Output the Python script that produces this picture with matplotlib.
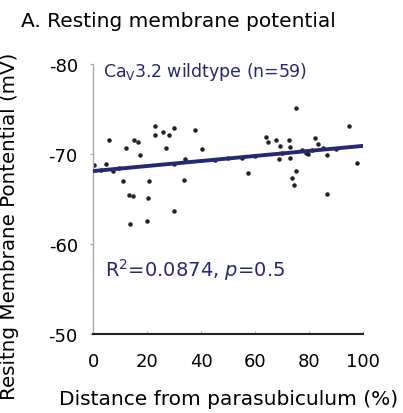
import matplotlib.pyplot as plt
import numpy as np

plt.rcParams['font.family'] = ['DejaVu Sans']
plt.rcParams['mathtext.fontset'] = 'dejavusans'
plt.rcParams['axes.unicode_minus'] = False

# distance from parasubiculum (%) and resting membrane potential (mV)
distance = [0.4, 4.7, 6.0, 7.5, 9.7, 11.0, 12.3, 15.3, 16.8, 17.3,
            13.2, 14.9, 20.7, 20.4, 13.5, 19.9, 23.1, 23.0, 25.8, 28.1,
            29.9, 26.9, 37.8, 40.4, 34.2, 33.8, 29.9,
            75.1, 94.8, 64.2, 64.7, 67.8, 69.3, 72.7, 73.1, 82.3, 83.2,
            85.1, 77.5, 79.5, 68.9, 72.8, 86.7, 97.8, 75.2, 73.5, 74.3,
            57.4, 86.5, 79.0, 50.0, 45.0, 60.0, 90.0, 3.0, 30.0, 55.0,
            70.0, 81.0]
potential = [-68.8, -68.9, -71.5, -68.1, -68.4, -67.0, -70.7, -71.6, -71.3, -69.9,
             -65.4, -65.3, -67.0, -65.1, -62.2, -62.6, -73.1, -72.1, -72.4, -72.1,
             -72.9, -70.7, -72.7, -70.5, -69.4, -67.1, -63.7,
             -75.1, -73.1, -71.9, -71.3, -71.5, -70.9, -71.6, -70.8, -71.8, -71.1,
             -70.7, -70.4, -70.0, -69.4, -69.5, -69.9, -69.0, -68.1, -67.3, -66.6,
             -67.9, -65.6, -70.1, -69.5, -69.3, -69.8, -70.6, -68.2, -68.9, -69.6,
             -70.1, -70.4]

# linear fit reported in the figure
fit_intercept = -68.1
fit_slope = -0.028

navy = '#232a72'

fig = plt.figure(figsize=(4.03, 4.14), dpi=100)
ax = fig.add_axes([0.231, 0.191, 0.670, 0.652])

ax.scatter(distance, potential, s=5, color='#222222', marker='o', zorder=2)
xf = np.array([0, 100])
ax.plot(xf, fit_intercept + fit_slope * xf, color=navy, linewidth=2.8, zorder=3)

ax.set_xlim(0, 100)
ax.set_ylim(-50, -80)
ax.set_xticks([0, 20, 40, 60, 80, 100])
ax.set_yticks([-80, -70, -60, -50])
ax.tick_params(axis='x', direction='in', length=2, color='#aaaaaa', labelsize=13, pad=13)
ax.tick_params(axis='y', direction='out', length=2, color='#aaaaaa', labelsize=13, pad=9)

for s in ['top', 'right']:
    ax.spines[s].set_visible(False)
ax.spines['left'].set_color('#aaaaaa')
ax.spines['left'].set_linewidth(1.0)
ax.spines['bottom'].set_color('#222222')
ax.spines['bottom'].set_linewidth(1.5)

ax.set_xlabel('Distance from parasubiculum (%)', fontsize=14.5, labelpad=14)
ax.set_ylabel('Resitng Membrane Pontential (mV)', fontsize=14.3, va='center')
ax.yaxis.set_label_coords(-0.31, 0.404)

ax.text(0.037, 0.956, r'Ca$_{\mathrm{V}}$3.2 wildtype (n=59)', transform=ax.transAxes,
        fontsize=12.5, color=navy, va='baseline', ha='left')
ax.text(0.044, 0.215, r'R$^{2}$=0.0874, $\it{p}$=0.5', transform=ax.transAxes,
        fontsize=14, color=navy, va='baseline', ha='left')

fig.text(0.051, 0.935, 'A. Resting membrane potential', fontsize=14.5, va='baseline', ha='left')

fig.savefig('out.png', dpi=100)
